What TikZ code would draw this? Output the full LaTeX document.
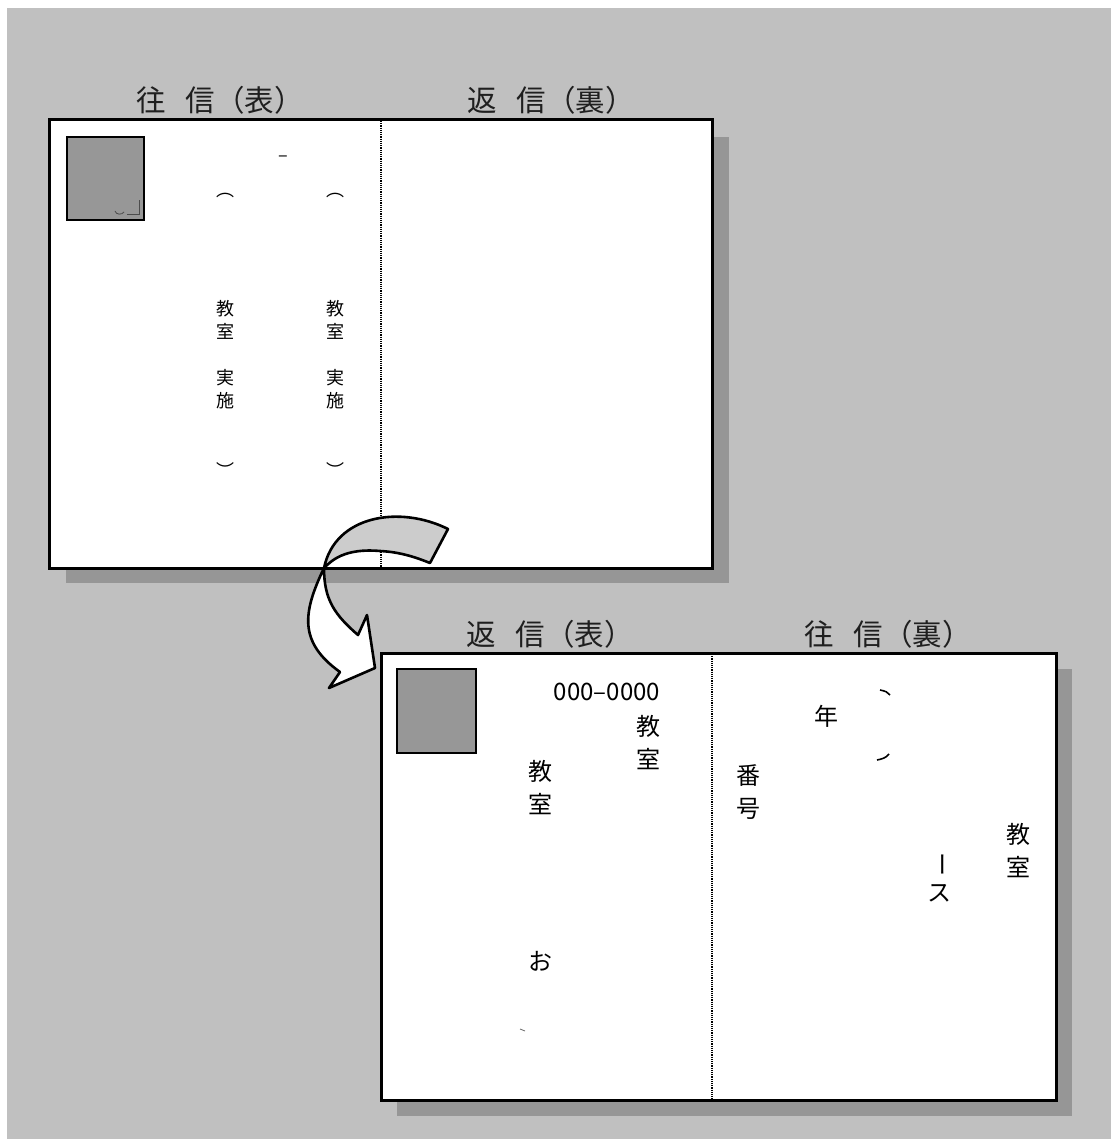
\documentclass[tikz,border=0pt]{standalone}
\usepackage{fontspec}
\newfontfamily\jp{Noto Sans CJK JP}
\definecolor{bggray}{HTML}{C0C0C0}
\definecolor{shadowgray}{HTML}{969696}
\definecolor{stampgray}{HTML}{979797}
\definecolor{arrowgray}{HTML}{CCCCCC}
\begin{document}
\begin{tikzpicture}[x=1pt,y=-1pt,
  cardbox/.style={draw=black, line width=3pt, fill=white},
  shadowbox/.style={fill=shadowgray},
  stampbox/.style={draw=black, line width=2.4pt, fill=stampgray},
  divider/.style={line width=1.2pt, densely dotted},
  lbl/.style={font=\jp\fontsize{29.5}{30}\selectfont, text=black!88, inner sep=0, anchor=west},
  smalltxt/.style={font=\jp\fontsize{18}{23}\selectfont, inner sep=0, align=center},
  parentxt/.style={font=\jp\fontsize{18}{23}\selectfont, inner sep=0},
  medtxt/.style={font=\jp\fontsize{24}{33}\selectfont, inner sep=0, align=center},
  ribbon/.style={draw=black, line width=2.6pt, line join=round}]
\useasboundingbox (0,0) rectangle (1111,1139);
\fill[bggray] (7,8) rectangle (1111,1139);

% ---------- top card (往信表 / 返信裏) ----------
\fill[shadowbox] (66,137) rectangle (729,583);
\draw[cardbox] (49,120) rectangle (712,568);
\coordinate (d1top) at (381,121);
\coordinate (d1bot) at (381,567);
\draw[divider] (d1top) -- (d1bot);
\node[lbl] (lblA) at (136,100) {往\hspace{0.68em}信（表）};
\node[lbl] (lblB) at (467,100) {返\hspace{0.68em}信（裏）};
\draw[stampbox] (67,137) rectangle (144,220);
\draw[black!70, line width=0.8pt] (115,211) .. controls (116,215) and (122,215) .. (124,212);
\draw[black!70, line width=0.8pt] (127,214) -- (139,214) -- (139,200);

\node[smalltxt] (dashA) at (283,159) {–};
\node[parentxt] (pA1) at (225,196) {︵};
\node[parentxt] (pA2) at (335,196) {︵};
\node[smalltxt] (cA1) at (225,320) {教\\室};
\node[smalltxt] (cA2) at (225,389) {実\\施};
\node[smalltxt] (cB1) at (335,320) {教\\室};
\node[smalltxt] (cB2) at (335,389) {実\\施};
\node[parentxt] (pA3) at (225,470) {︶};
\node[parentxt] (pA4) at (335,470) {︶};

% ---------- bottom card (返信表 / 往信裏) ----------
\fill[shadowbox] (397,669) rectangle (1072,1116);
\draw[cardbox] (381,653) rectangle (1056,1100);
\coordinate (d2top) at (712,654);
\coordinate (d2bot) at (712,1099);
\draw[divider] (d2top) -- (d2bot);
\node[lbl] (lblC) at (466,634) {返\hspace{0.68em}信（表）};
\node[lbl] (lblD) at (804,634) {往\hspace{0.68em}信（裏）};
\draw[stampbox] (397,669) rectangle (476,753);

\node[font=\jp\fontsize{24}{24}\selectfont, inner sep=0] (zip) at (607,692) {000–0000};
\node[medtxt] (addr1) at (648,743) {教\\室};
\node[medtxt] (addr2) at (540,788) {教\\室};
\node[medtxt] (o) at (540,961) {お};
\draw[black!60, line width=0.8pt] (520,1029) -- (525,1031);

\node[medtxt] (nen) at (826,716) {年};
\draw[black, line width=1.6pt] (880,690) .. controls (885,691) and (888,692) .. (890,695);
\draw[black, line width=1.6pt] (877,760) .. controls (882,759) and (886,758) .. (889,754);
\node[medtxt] (bango) at (748,792) {番\\号};
\node[medtxt] (addr3) at (1018,851) {教\\室};
\node[medtxt, rotate=-90] (cho) at (939,864) {ー};
\node[medtxt] (su) at (939,893) {ス};

% ---------- twisted arrow ----------
\coordinate (tailA) at (448,529);
\coordinate (tailB) at (430,563);
\coordinate (twist) at (324,568);
\coordinate (neckL) at (340,672);
\coordinate (barbL) at (329,688);
\coordinate (tip) at (375,668);
\coordinate (barbR) at (367,615);
\coordinate (neckR) at (358,635);
\filldraw[ribbon, fill=arrowgray] (tailA) .. controls (400,505) and (335,515) .. (twist)
  .. controls (332,560) and (345,548) .. (380,551)
  .. controls (400,552) and (415,557) .. (tailB) -- cycle;
\filldraw[ribbon, fill=white] (twist) .. controls (303,612) and (298,642) .. (neckL)
  -- (barbL) -- (tip) -- (barbR) -- (neckR)
  .. controls (335,615) and (324,600) .. (twist);
\end{tikzpicture}
\end{document}
